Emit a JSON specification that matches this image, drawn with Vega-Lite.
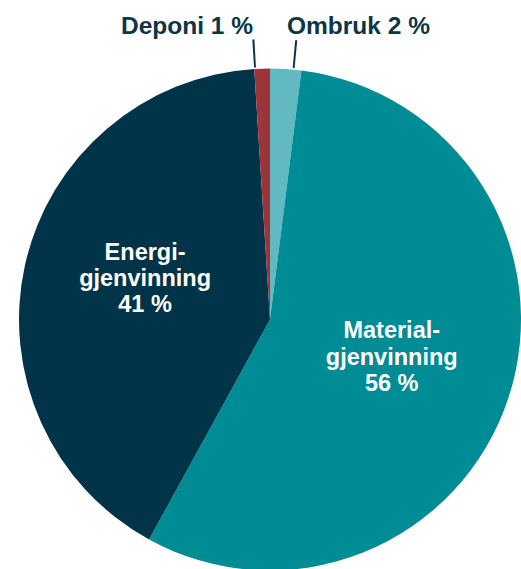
{
  "$schema": "https://vega.github.io/schema/vega-lite/v6.json",
  "width": 500,
  "height": 499,
  "autosize": {"type": "none"},
  "padding": {"left": 20, "top": 70, "right": 1, "bottom": 0},
  "background": "white",
  "config": {"view": {"stroke": null}},
  "datasets": {
    "shares": [
      {"category": "Ombruk", "rank": 1, "value": 2, "label": "Ombruk 2 %"},
      {"category": "Materialgjenvinning", "rank": 2, "value": 56, "label": "Material-\ngjenvinning\n56 %"},
      {"category": "Energigjenvinning", "rank": 3, "value": 41, "label": "Energi-\ngjenvinning\n41 %"},
      {"category": "Deponi", "rank": 4, "value": 1, "label": "Deponi 1 %"}
    ],
    "leaders": [
      {"category": "Deponi", "from": 98.995, "to": 99.115},
      {"category": "Ombruk", "from": 1.43, "to": 1.55}
    ]
  },
  "layer": [
    {
      "data": {"name": "shares"},
      "mark": {"type": "arc", "outerRadius": 251},
      "encoding": {
        "theta": {"field": "value", "type": "quantitative", "stack": true, "scale": {"domain": [0, 100]}},
        "order": {"field": "rank", "type": "quantitative"},
        "color": {
          "field": "category",
          "type": "nominal",
          "legend": null,
          "scale": {
            "domain": ["Ombruk", "Materialgjenvinning", "Energigjenvinning", "Deponi"],
            "range": ["#63b9c1", "#008c95", "#023449", "#9c3539"]
          }
        }
      }
    },
    {
      "data": {"name": "leaders"},
      "mark": {"type": "arc", "innerRadius": 252.5, "outerRadius": 280.5, "color": "#0d3447"},
      "encoding": {
        "theta": {"field": "from", "type": "quantitative", "stack": null},
        "theta2": {"field": "to"}
      }
    },
    {
      "data": {"name": "shares"},
      "mark": {
        "type": "text",
        "radius": 128,
        "dy": -28,
        "font": "Liberation Sans",
        "fontWeight": "bold",
        "fontSize": 23.5,
        "lineHeight": 26.5,
        "lineBreak": "\n",
        "color": "white",
        "align": "center",
        "baseline": "middle"
      },
      "encoding": {
        "theta": {"field": "value", "type": "quantitative", "stack": true},
        "order": {"field": "rank", "type": "quantitative"},
        "detail": {"field": "category", "type": "nominal"},
        "text": {"condition": {"test": "datum.rank == 2", "field": "label", "type": "nominal"}, "value": ""}
      }
    },
    {
      "data": {"name": "shares"},
      "mark": {
        "type": "text",
        "radius": 128,
        "dy": -38.5,
        "font": "Liberation Sans",
        "fontWeight": "bold",
        "fontSize": 23.5,
        "lineHeight": 26,
        "lineBreak": "\n",
        "color": "white",
        "align": "center",
        "baseline": "middle"
      },
      "encoding": {
        "theta": {"field": "value", "type": "quantitative", "stack": true},
        "order": {"field": "rank", "type": "quantitative"},
        "detail": {"field": "category", "type": "nominal"},
        "text": {"condition": {"test": "datum.rank == 3", "field": "label", "type": "nominal"}, "value": ""}
      }
    },
    {
      "data": {"name": "shares"},
      "mark": {
        "type": "text",
        "radius": 286,
        "dx": -8,
        "font": "Liberation Sans",
        "fontWeight": "bold",
        "fontSize": 24.5,
        "color": "#0d3447",
        "align": "right",
        "baseline": "alphabetic"
      },
      "encoding": {
        "theta": {"field": "value", "type": "quantitative", "stack": true},
        "order": {"field": "rank", "type": "quantitative"},
        "detail": {"field": "category", "type": "nominal"},
        "text": {"condition": {"test": "datum.rank == 4", "field": "label", "type": "nominal"}, "value": ""}
      }
    },
    {
      "data": {"name": "shares"},
      "mark": {
        "type": "text",
        "radius": 286,
        "dx": -1,
        "font": "Liberation Sans",
        "fontWeight": "bold",
        "fontSize": 24.5,
        "color": "#0d3447",
        "align": "left",
        "baseline": "alphabetic"
      },
      "encoding": {
        "theta": {"field": "value", "type": "quantitative", "stack": true},
        "order": {"field": "rank", "type": "quantitative"},
        "detail": {"field": "category", "type": "nominal"},
        "text": {"condition": {"test": "datum.rank == 1", "field": "label", "type": "nominal"}, "value": ""}
      }
    }
  ]
}
